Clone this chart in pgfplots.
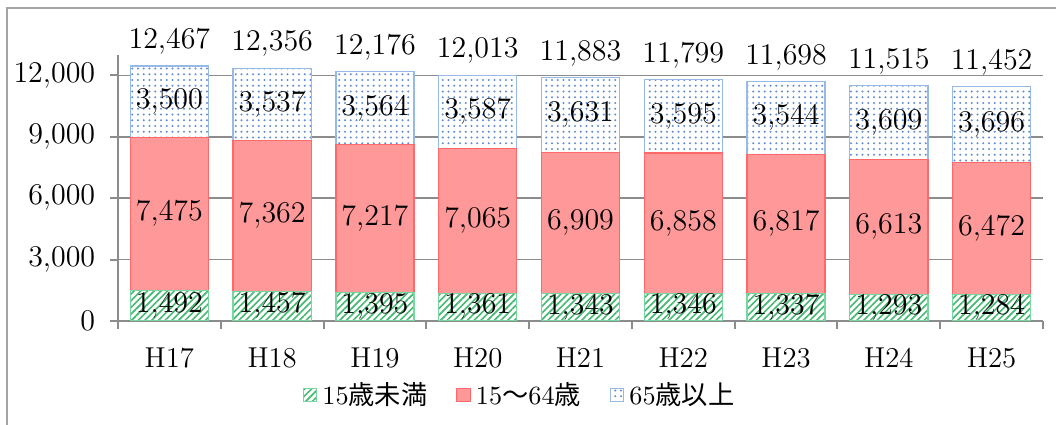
\documentclass[border=0pt]{standalone}
\usepackage{fontspec}
\usepackage{pgfplots}
\usepackage{pgfplotstable}
\pgfplotsset{compat=1.18}
\usetikzlibrary{patterns.meta}
\newfontfamily\cjk{Noto Sans CJK JP}
\definecolor{gstripe}{RGB}{70,185,115}
\definecolor{gborder}{RGB}{120,215,160}
\definecolor{rfill}{RGB}{255,153,153}
\definecolor{rborder}{RGB}{255,105,105}
\definecolor{bdot}{RGB}{100,140,210}
\definecolor{bborder}{RGB}{150,185,230}
\definecolor{axgray}{RGB}{140,140,140}
\definecolor{framegray}{RGB}{165,165,165}

\pgfplotstableread{
x a b c
0 1492 7475 3500
1 1457 7362 3537
2 1395 7217 3564
3 1361 7065 3587
4 1343 6909 3631
5 1346 6858 3595
6 1337 6817 3544
7 1293 6613 3609
8 1284 6472 3696
}\data
\pgfplotstablecreatecol[create col/expr={\thisrow{a}/2}]{m1}\data
\pgfplotstablecreatecol[create col/expr={\thisrow{a}+\thisrow{b}/2}]{m2}\data
\pgfplotstablecreatecol[create col/expr={\thisrow{a}+\thisrow{b}+\thisrow{c}/2}]{m3}\data
\pgfplotstablecreatecol[create col/expr={\thisrow{a}+\thisrow{b}+\thisrow{c}}]{t}\data

\begin{document}
\begin{tikzpicture}
\useasboundingbox (-47.2pt,-41.6pt) rectangle (375.2pt,128.4pt);
\draw[framegray, line width=0.8pt] (-44.4pt,-50pt) -- (-44.4pt,125.2pt) -- (390pt,125.2pt);
\pgfplotsset{
  commonaxis/.style={
    scale only axis, width=370pt, height=106.4pt,
    at={(0pt,0pt)}, anchor=south west,
    xmin=-0.5, xmax=8.5, ymin=0, ymax=13000,
    /pgf/number format/1000 sep={\mathord{,}},
  }
}
\begin{axis}[commonaxis,
  ybar stacked, bar width=0.76,
  axis x line*=bottom, axis y line*=left,
  axis line style={axgray, line width=0.8pt, -},
  xtick={0,...,8},
  xticklabels={H17,H18,H19,H20,H21,H22,H23,H24,H25},
  major x tick style={draw=none},
  minor xtick={-0.5,0.5,...,8.5},
  minor x tick style={axgray, line width=0.8pt},
  minor tick length=3.2pt,
  ytick={0,3000,...,12000},
  major y tick style={axgray, line width=0.8pt},
  major tick length=3.2pt,
  tick align=outside,
  ymajorgrids, grid style={axgray, line width=0.6pt},
  scaled y ticks=false,
  yticklabel style={xshift=-2.4pt},
  tick label style={font=\fontsize{11.5}{13}\selectfont},
  xticklabel style={yshift=-4pt},
  legend style={draw=none, fill=none, legend columns=3,
    at={(0.4357,-0.278)}, anchor=center,
    font=\fontsize{10.5}{12}\selectfont,
    /tikz/every even column/.append style={column sep=9.5pt},
    inner sep=0pt},
  legend image code/.code={\draw[#1] (0pt,-2.7pt) rectangle (5.4pt,2.7pt);},
]
\addplot[fill=white, draw=gborder, line width=0.5pt,
  postaction={pattern={Lines[angle=45,distance=1.9pt,line width=0.65pt]}, pattern color=gstripe}]
  table[x=x,y=a]{\data};
\addlegendentry{15{\cjk 歳未満}}
\addplot[fill=rfill, draw=rborder, line width=0.5pt]
  table[x=x,y=b]{\data};
\addlegendentry{15{\cjk ～}64{\cjk 歳}}
\addplot[fill=white, draw=bborder, line width=0.5pt,
  postaction={pattern={Dots[distance=2.3pt,radius=0.42pt]}, pattern color=bdot}]
  table[x=x,y=c]{\data};
\addlegendentry{65{\cjk 歳以上}}
\end{axis}
\begin{axis}[commonaxis, axis lines=none,
  nodes near coords,
  point meta=explicit,
  every node near coord/.append style={anchor=center, font=\fontsize{11.5}{13}\selectfont, inner sep=0pt},
]
\addplot[draw=none, mark=none] table[x=x,y=m1,meta=a]{\data};
\addplot[draw=none, mark=none] table[x=x,y=m2,meta=b]{\data};
\addplot[draw=none, mark=none] table[x=x,y=m3,meta=c]{\data};
\addplot[draw=none, mark=none, every node near coord/.append style={yshift=9.6pt}] table[x=x,y=t,meta=t]{\data};
\end{axis}
\end{tikzpicture}
\end{document}
